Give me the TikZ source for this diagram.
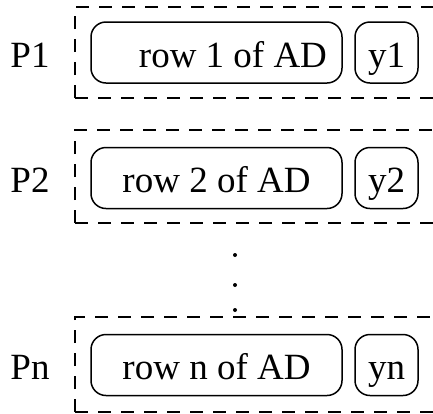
\documentclass[tikz,border=0pt]{standalone}
\usepackage{fontspec}
\setmainfont{Liberation Serif}
\begin{document}
\begin{tikzpicture}[x=1pt,y=-1pt,
  every node/.style={font=\fontsize{37}{44}\selectfont, text height=29pt, text depth=0pt},
  rowbox/.style={draw, line width=1.5pt, rounded corners=15pt,
    minimum width=251pt, minimum height=61pt, inner sep=0pt},
  ybox/.style={draw, line width=1.5pt, rounded corners=15pt,
    minimum width=63pt, minimum height=61pt, inner sep=0pt},
  frame/.style={dash pattern=on 13pt off 10pt, line width=1.2pt},
  plabel/.style={inner sep=0pt}]
  \useasboundingbox (0,0) rectangle (433,413);
  \clip (0,0) rectangle (433,413);

  % processor 1 (its row text sits flush right)
  \draw[frame] (75,98) -- (75,7) -- (460,7) (75,98) -- (460,98);
  \node[plabel] (p1) at (30,52.5) {P1};
  \node[rowbox] (r1) at (216.5,52.5) {\makebox[221pt][r]{row 1 of AD}};
  \node[ybox] (y1) at (386.5,52.5) {y1};

  % processor 2
  \draw[frame] (75,223) -- (75,130) -- (460,130) (75,223) -- (460,223);
  \node[plabel] (p2) at (30,178) {P2};
  \node[rowbox] (r2) at (216.5,178) {row 2 of AD};
  \node[ybox] (y2) at (386.5,178) {y2};

  % vertical ellipsis
  \foreach \yy/\nm in {255/d1, 285/d2, 310/d3}
    \fill (235,\yy) circle (2pt) coordinate (\nm);

  % processor n
  \draw[frame] (75,412) -- (75,317) -- (460,317) (75,412) -- (460,412);
  \node[plabel] (pn) at (30,365) {Pn};
  \node[rowbox] (rn) at (216.5,365) {row n of AD};
  \node[ybox] (yn) at (386.5,365) {yn};
\end{tikzpicture}
\end{document}
